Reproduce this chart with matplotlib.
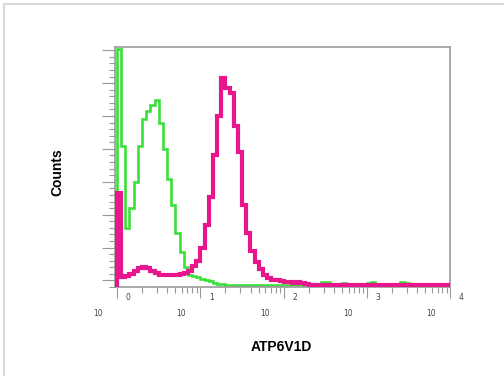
import numpy as np
import matplotlib
matplotlib.use("Agg")
import matplotlib.pyplot as plt
from matplotlib import transforms
from matplotlib.lines import Line2D
from matplotlib.ticker import FixedLocator, NullFormatter

# histogram bins: 80 bins of 0.05 decade between 10^0 and 10^4
bin_edges_log = np.linspace(0, 4, 81)

# isotype / control (green)
control_counts = [
    145, 86, 36, 48, 64, 86, 102, 107, 111, 114,
    100, 84, 66, 50, 33, 21, 12, 7.5, 6.5, 6,
    5, 4.5, 3.5, 2.5, 2, 2, 1.5, 1.5, 1.5, 1,
    1, 1, 1, 1, 1, 1, 1, 1, 1, 1,
    1, 1, 1, 1, 1, 1, 1, 1, 1.5, 3,
    3, 1.5, 1, 1, 2.5, 1, 1, 1, 1, 1.5,
    2.5, 3, 1.5, 1, 1, 1, 1, 1.5, 3, 2.5,
    1, 1, 1, 1, 1, 1, 1, 1, 1, 1,
]

# ATP6V1D stained (magenta)
stained_counts = [
    57, 6, 6.5, 8, 10, 11.5, 12, 11.5, 10, 8.5,
    7.5, 7.5, 7.5, 7.5, 7.5, 8, 8.5, 10, 13, 16,
    24, 38, 55, 80, 104, 127, 121, 118, 98, 82,
    50, 33, 22, 15, 11, 7, 5.5, 4.5, 4.5, 3.5,
    3, 3, 2.5, 3, 2.5, 2, 1.5, 1.5, 1.5, 1.5,
    1.5, 1, 1, 1, 1, 1, 1, 1, 1, 1,
    1, 1, 1, 1, 1, 1, 1, 1, 1, 1,
    1, 1, 1, 1, 1, 1, 1, 1, 1, 1,
]

decades = [0, 1, 2, 3, 4]

GREEN = "#3ce03c"
MAGENTA = "#e8168c"
AXIS_GREY = "#999999"

fig = plt.figure(figsize=(5.04, 3.76), dpi=100)
W, H = 504, 376
ax = fig.add_axes([115 / W, 1 - 287 / H, 335.5 / W, 240 / H])

edges = 10 ** bin_edges_log
ax.stairs(control_counts, edges, baseline=0, color=GREEN, lw=1.9, zorder=2)
ax.stairs(stained_counts, edges, baseline=0, color=MAGENTA, lw=3.0, zorder=3)

ax.set_xscale("log")
ax.set_xlim(10 ** (-2 / 84), 10 ** 4)
ax.set_ylim(0, 146)

# y ticks (no labels)
ax.yaxis.set_major_locator(FixedLocator(np.arange(4, 146, 20)))
ax.yaxis.set_minor_locator(FixedLocator(np.arange(0, 146, 4)))
ax.yaxis.set_major_formatter(NullFormatter())

# x ticks
ax.xaxis.set_major_locator(FixedLocator([10 ** d for d in decades]))
minor = [k * 10 ** d for d in decades[:-1] for k in range(2, 10)]
ax.xaxis.set_minor_locator(FixedLocator(minor))
ax.xaxis.set_major_formatter(NullFormatter())
ax.xaxis.set_minor_formatter(NullFormatter())

ax.tick_params(axis="both", which="both", direction="out", color=AXIS_GREY,
               width=0.8, top=False, right=False)
ax.tick_params(axis="y", which="major", length=9.5)
ax.tick_params(axis="y", which="minor", length=4.5)
ax.tick_params(axis="x", which="major", length=8)
ax.tick_params(axis="x", which="minor", length=4)

for sp in ax.spines.values():
    sp.set_color(AXIS_GREY)
    sp.set_linewidth(1.2)

# decade labels written as "10" and exponent, offset like the original export
xtr = ax.get_xaxis_transform()
for d in decades:
    base_tr = transforms.offset_copy(xtr, fig=fig, x=-19, y=-26, units="dots")
    exp_tr = transforms.offset_copy(xtr, fig=fig, x=11, y=-11, units="dots")
    ax.text(10 ** d, 0, "10", transform=base_tr, ha="center", va="center",
            fontsize=5.5, color="#444444", clip_on=False)
    ax.text(10 ** d, 0, str(d), transform=exp_tr, ha="center", va="center",
            fontsize=5.5, color="#444444", clip_on=False)

fig.text(57 / W, 1 - 172 / H, "Counts", rotation=90, ha="center", va="center",
         fontsize=10, fontweight="bold", family="Liberation Sans")
fig.text(281 / W, 1 - 347 / H, "ATP6V1D", ha="center", va="center",
         fontsize=10, fontweight="bold", family="Liberation Sans")

# light outer frame (top and left edges visible)
fig.add_artist(Line2D([3.5 / W, 3.5 / W], [0, 1 - 3.5 / H], transform=fig.transFigure,
                      color="#dadada", lw=1.5))
fig.add_artist(Line2D([3.5 / W, 1], [1 - 3.5 / H, 1 - 3.5 / H], transform=fig.transFigure,
                      color="#dadada", lw=1.5))

fig.savefig("out.png", dpi=100)
